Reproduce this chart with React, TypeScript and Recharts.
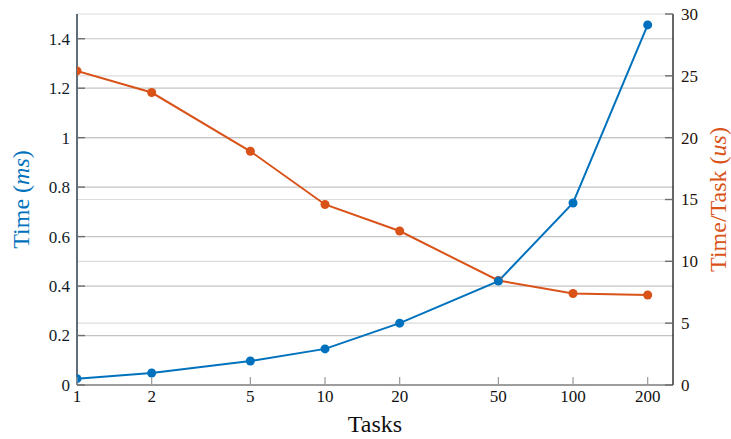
import { CartesianGrid, Label, Line, LineChart, XAxis, YAxis } from "recharts";

const tasks = [1, 2, 5, 10, 20, 50, 100, 200];
const timeMs = [0.0255, 0.0485, 0.097, 0.146, 0.25, 0.42, 0.736, 1.456];
const timePerTaskUs = [25.4, 23.65, 18.9, 14.6, 12.45, 8.45, 7.4, 7.28];

const leftTicks = [0, 0.2, 0.4, 0.6, 0.8, 1, 1.2, 1.4];
const rightTicks = [0, 5, 10, 15, 20, 25, 30];

const BLUE = "#0072bd";
const ORANGE = "#d95319";
const FONT = "Liberation Serif";

const data = tasks.map((t, i) => ({
  tasks: t,
  time: timeMs[i],
  perTask: timePerTaskUs[i],
}));

const fmtLeft = (v: number) => String(+v.toFixed(1));

const renderLeftTick = (props: any) => {
  const { x, y, payload } = props;
  return (
    <g key={`l-${payload.value}`}>
      <line x1={x + 6} y1={y} x2={x + 14} y2={y} stroke="#6f6f6f" strokeWidth={1.4} />
      <text x={x - 1} y={y} dy="0.35em" textAnchor="end" fill="#111c28" fontFamily={FONT} fontSize={17}>
        {fmtLeft(payload.value)}
      </text>
    </g>
  );
};

const renderRightTick = (props: any) => {
  const { x, y, payload } = props;
  return (
    <g key={`r-${payload.value}`}>
      <line x1={x - 6} y1={y} x2={x - 14} y2={y} stroke="#6f6f6f" strokeWidth={1.4} />
      <text x={x + 2} y={y} dy="0.35em" textAnchor="start" fill="#24130b" fontFamily={FONT} fontSize={17}>
        {payload.value}
      </text>
    </g>
  );
};

const renderBottomTick = (props: any) => {
  const { x, y, payload } = props;
  return (
    <g key={`b-${payload.value}`}>
      <line x1={x} y1={y - 6} x2={x} y2={y - 14} stroke="#999" strokeWidth={1.2} />
      <text x={x} y={y - 2} dy="0.75em" textAnchor="middle" fill="#111" fontFamily={FONT} fontSize={17}>
        {payload.value}
      </text>
    </g>
  );
};

const renderTopTick = (props: any) => {
  const { x, y, payload } = props;
  return <line key={`t-${payload.value}`} x1={x} y1={y} x2={x} y2={y + 7} stroke="#999" strokeWidth={1.2} />;
};

export default function App() {
  return (
    <div style={{ position: "absolute", left: 0, top: 0, width: 731, height: 439, background: "#fff" }}>
      <LineChart
        width={731}
        height={439}
        data={data}
        margin={{ top: 14, right: 0, bottom: 0, left: 0 }}
      >
        <CartesianGrid yAxisId="right" vertical={false} horizontalValues={rightTicks} stroke="#dcdcdc" strokeWidth={1.2} />
        <CartesianGrid yAxisId="left" vertical={false} horizontalValues={leftTicks} stroke="#c4c4c4" strokeWidth={1.2} />
        <XAxis
          xAxisId="bottom"
          dataKey="tasks"
          type="number"
          scale="log"
          domain={[1, 253]}
          ticks={tasks}
          allowDataOverflow
          height={54}
          tickSize={0}
          tickMargin={6}
          tickLine={false}
          tick={renderBottomTick}
          stroke="#8a8a8a"
          strokeWidth={1.5}
        >
          <Label
            content={() => (
              <text x={375} y={432} textAnchor="middle" fill="#111" fontFamily={FONT} fontSize={24}>
                Tasks
              </text>
            )}
          />
        </XAxis>
        <XAxis
          xAxisId="top"
          orientation="top"
          dataKey="tasks"
          type="number"
          scale="log"
          domain={[1, 253]}
          ticks={tasks}
          allowDataOverflow
          height={0}
          tickSize={0}
          tickMargin={0}
          tickLine={false}
          tick={renderTopTick}
          stroke="#9a9a9a"
          strokeWidth={1.2}
        />
        <YAxis
          yAxisId="left"
          domain={[0, 1.5]}
          ticks={leftTicks}
          width={77}
          tickSize={0}
          tickMargin={6}
          tickLine={false}
          tick={renderLeftTick}
          stroke="#2b3d4f"
          strokeWidth={1.5}
        >
          <Label
            content={() => (
              <text
                x={29}
                y={199.5}
                transform="rotate(-90 29 199.5)"
                textAnchor="middle"
                fill={BLUE}
                fontFamily={FONT}
                fontSize={24}
              >
                Time (<tspan fontStyle="italic">ms</tspan>)
              </text>
            )}
          />
        </YAxis>
        <YAxis
          yAxisId="right"
          orientation="right"
          domain={[0, 30]}
          ticks={rightTicks}
          width={58}
          tickSize={0}
          tickMargin={6}
          tickLine={false}
          tick={renderRightTick}
          stroke="#000"
          strokeWidth={1.2}
        >
          <Label
            content={() => (
              <text
                x={726}
                y={199.5}
                transform="rotate(-90 726 199.5)"
                textAnchor="middle"
                fill={ORANGE}
                fontFamily={FONT}
                fontSize={24}
              >
                Time/Task (<tspan fontStyle="italic">us</tspan>)
              </text>
            )}
          />
        </YAxis>
        <Line
          xAxisId="bottom"
          yAxisId="right"
          dataKey="perTask"
          stroke={ORANGE}
          strokeWidth={2}
          dot={{ r: 4.5, fill: ORANGE, stroke: ORANGE, strokeWidth: 0 }}
          isAnimationActive={false}
        />
        <Line
          xAxisId="bottom"
          yAxisId="left"
          dataKey="time"
          stroke={BLUE}
          strokeWidth={2}
          dot={{ r: 4.5, fill: BLUE, stroke: BLUE, strokeWidth: 0 }}
          isAnimationActive={false}
        />
      </LineChart>
    </div>
  );
}
